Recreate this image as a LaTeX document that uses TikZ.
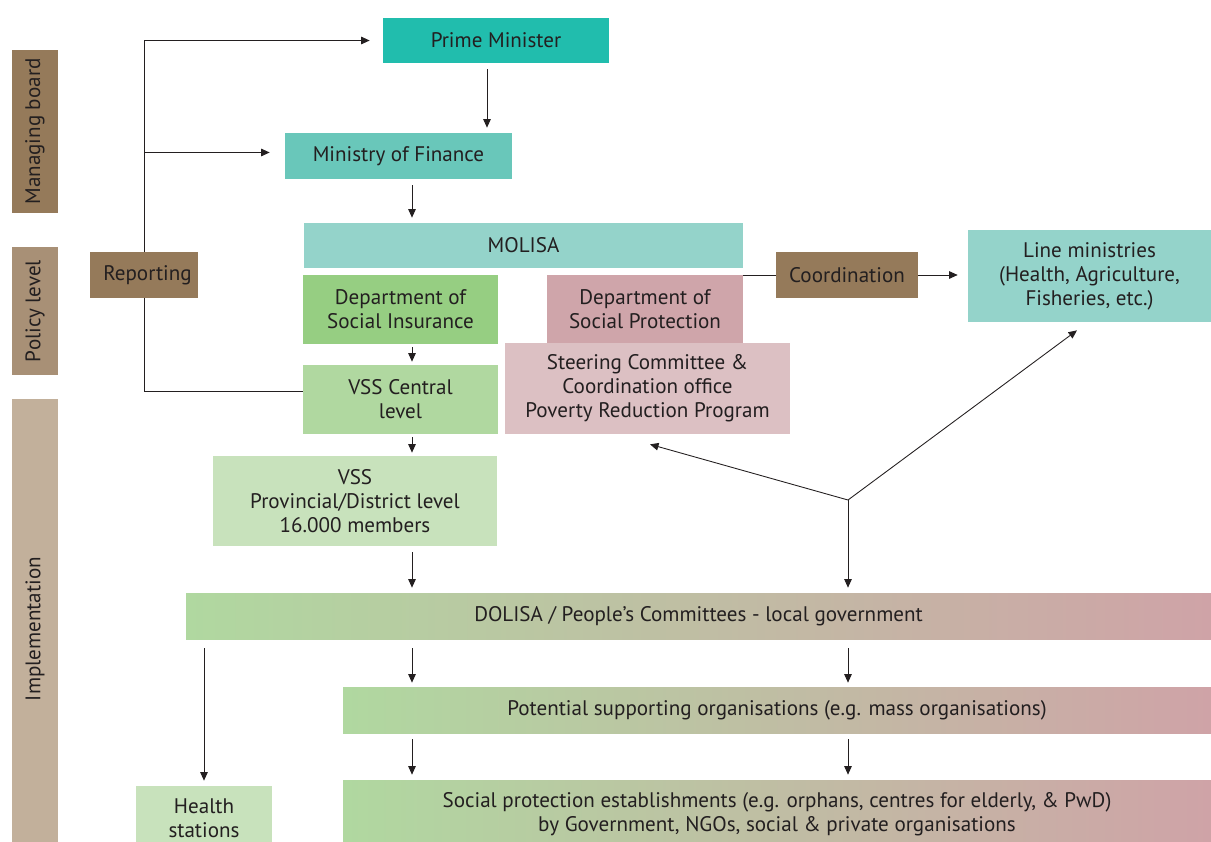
\documentclass[tikz,border=0pt]{standalone}
\usepackage{fontspec}
\setmainfont{PT Sans}
\usepackage{tikz}
\usetikzlibrary{arrows.meta,positioning,calc}
\definecolor{ink}{HTML}{231F20}
\definecolor{brownA}{HTML}{957A5A}
\definecolor{brownB}{HTML}{A89076}
\definecolor{brownC}{HTML}{C2B09B}
\definecolor{tealA}{HTML}{21BDAD}
\definecolor{tealB}{HTML}{69C7BA}
\definecolor{tealC}{HTML}{94D3CA}
\definecolor{greenA}{HTML}{96CE82}
\definecolor{greenB}{HTML}{B0D8A0}
\definecolor{greenC}{HTML}{C8E2BC}
\definecolor{pinkA}{HTML}{CFA5AA}
\definecolor{pinkB}{HTML}{DCC0C3}
\definecolor{pinkG}{HTML}{CFA3A7}

\begin{document}
\begin{tikzpicture}[
  x=0.02cm, y=-0.02cm,
  font=\fontsize{12}{13.6}\selectfont, text=ink,
  b/.style={inner sep=1pt, align=center},
  lvl/.style={b, rotate=90, minimum height=0.92cm},
  grad/.style={b, left color=greenB, right color=pinkG},
  pf/.style={draw=ink, line width=0.5pt, -{Triangle[length=1.7mm, width=1.5mm]}, shorten <=1.2mm, shorten >=1mm},
  ln/.style={draw=ink, line width=0.5pt}
]
\useasboundingbox (0,0) rectangle (1211,842);
% level bars
\node[lvl, fill=brownA, minimum width=3.26cm] (mb) at (35,131.5) {Managing board};
\node[lvl, fill=brownB, minimum width=2.56cm] (pl) at (35,311) {Policy level};
\node[lvl, fill=brownC, minimum width=9.2cm] (impl) at (35,629) {Implementation};
% columns for the arrows
\coordinate (colA) at (412,0);
\coordinate (colB) at (848,0);
\coordinate (colP) at (487,0);
\coordinate (hub) at (848,500);
% ministries
\node[b, fill=tealA, minimum width=4.52cm, minimum height=0.9cm] (pm) at (496,40.5) {Prime Minister};
\node[b, fill=tealB, minimum width=4.54cm, minimum height=0.92cm] (mof) at (398.5,156) {Ministry of Finance};
\node[b, fill=tealC, minimum width=8.78cm, minimum height=0.9cm] (molisa) at (523.5,245.5) {MOLISA};
\node[b, fill=brownA, minimum width=2.16cm, minimum height=0.92cm] (rep) at (144,275) {\hspace{4pt}Reporting};
\node[b, fill=brownA, minimum width=2.84cm, minimum height=0.92cm] (coord) at (847,275) {Coordination};
\node[b, fill=tealC, minimum width=4.86cm, minimum height=1.84cm] (lm) at (1089.5,276) {Line ministries\\(Health, Agriculture,\\Fisheries, etc.)};
% departments
\node[b, fill=greenA, minimum width=3.9cm, minimum height=1.38cm] (dsi) at (400.5,309.5) {Department of\\Social Insurance};
\node[b, fill=greenB, minimum width=3.9cm, minimum height=1.38cm] (vssc) at (400.5,399.5) {VSS Central\\level};
\node[b, fill=pinkA, minimum width=3.92cm, minimum height=1.36cm] (dsp) at (645,309) {Department of\\Social Protection};
\node[b, fill=pinkB, minimum width=5.7cm, minimum height=1.82cm] (steer) at (647.5,388.5) {Steering Committee \&\\Coordination office\\Poverty Reduction Program};
% implementation
\node[b, fill=greenC, minimum width=5.68cm, minimum height=1.8cm] (vssp) at (355,501) {VSS\\Provincial/District level\\16.000 members};
\node[grad, minimum width=20.5cm, minimum height=0.92cm] (dolisa) at (698.5,616) {DOLISA / People’s Committees - local government};
\node[grad, minimum width=17.36cm, minimum height=0.92cm] (pot) at (777,710) {Potential supporting organisations (e.g. mass organisations)};
\node[grad, minimum width=17.36cm, minimum height=1.36cm] (spe) at (777,814) {Social protection establishments (e.g. orphans, centres for elderly, \& PwD)\\by Government, NGOs, social \& private organisations};
\node[b, fill=greenC, minimum width=2.72cm, minimum height=1.28cm] (hs) at (204,818) {Health\\stations};
% reporting lines
\draw[pf, shorten <=0mm, shorten >=2.6mm] (rep.north) |- (pm.west);
\draw[pf, shorten <=0mm, shorten >=3mm] (rep.north) |- ([yshift=2pt]mof.west);
\draw[ln] (rep.south) |- ([yshift=4.5pt]vssc.west);
% top-down
\draw[pf] (pm.south -| colP) -- (mof.north -| colP);
\draw[pf] (mof.south -| colA) -- (molisa.north -| colA);
\draw[pf, shorten <=0.6mm, shorten >=0.6mm] (dsi.south -| colA) -- (vssc.north -| colA);
\draw[pf, shorten <=0.6mm, shorten >=0.6mm] (vssc.south -| colA) -- (vssp.north -| colA);
\draw[pf] (vssp.south -| colA) -- (dolisa.north -| colA);
\draw[pf, shorten <=1.8mm, shorten >=0.8mm] (dolisa.south -| colA) -- (pot.north -| colA);
\draw[pf, shorten <=1.8mm, shorten >=0.8mm] (dolisa.south -| colB) -- (pot.north -| colB);
\draw[pf] (pot.south -| colA) -- (spe.north -| colA);
\draw[pf] (pot.south -| colB) -- (spe.north -| colB);
\draw[pf, shorten <=1.8mm] (dolisa.south -| hs) -- (hs.north);
% coordination
\draw[ln] (molisa.east |- coord) -- (coord.west);
\draw[pf, shorten <=0mm, shorten >=2mm] (coord.east) -- (lm.west |- coord);
\draw[pf, shorten <=0mm, shorten >=0mm] (hub) -- ($(steer.south)+(2.5,10)$);
\draw[pf, shorten <=0mm, shorten >=0mm] (hub) -- ($(lm.south)+(-12.5,8)$);
\draw[pf, shorten <=0mm] (hub) -- (dolisa.north -| colB);
\end{tikzpicture}
\end{document}
